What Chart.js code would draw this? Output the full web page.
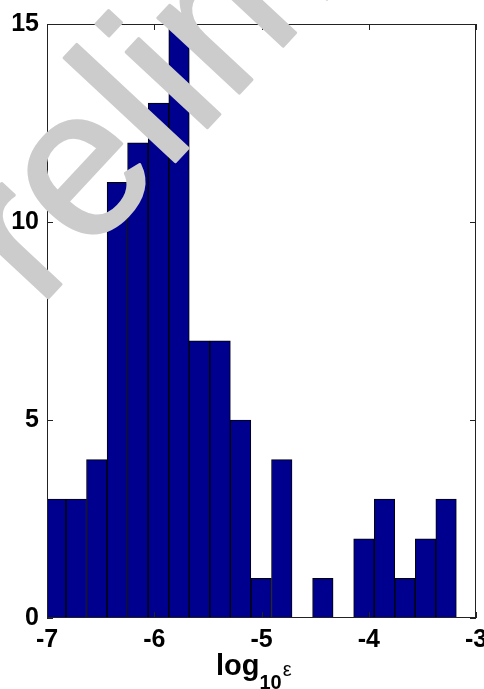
<!DOCTYPE html>
<html lang="en">
  <head>
    <meta charset="UTF-8" />
    <title>log10 eps histogram</title>
    <script src="https://cdn.jsdelivr.net/npm/chart.js"></script>
    <style>
      body {
        margin: 0;
        background: #fff;
      }
      canvas {
        display: block;
      }
    </style>
  </head>
  <body>
    <canvas id="histChart" width="484" height="689"></canvas>
    <script>
      // bin centres (log10 eps) and counts
      const binCenters = [
        -6.919, -6.727, -6.536, -6.344, -6.153, -5.961, -5.769, -5.578,
        -5.386, -5.195, -5.003, -4.811, -4.62, -4.428, -4.237, -4.045,
        -3.853, -3.662, -3.47, -3.279,
      ];
      const counts = [3, 3, 4, 11, 12, 13, 15, 7, 7, 5, 1, 4, 0, 1, 0, 2, 3, 1, 2, 3];
      const xTicks = [-7, -6, -5, -4, -3];
      const yTicks = [0, 5, 10, 15];
      const watermark = "Preliminary";

      const tickFont = { family: "'Liberation Sans', Arial, sans-serif", size: 25, weight: "bold" };

      // MATLAB style box with inward ticks on all four sides
      const boxPlugin = {
        id: "box",
        afterDatasetsDraw(chart) {
          const { ctx, chartArea: a, scales } = chart;
          ctx.save();
          ctx.strokeStyle = "#222";
          ctx.lineWidth = 1;
          ctx.strokeRect(a.left + 0.5, a.top + 0.5, a.right - a.left - 1, a.bottom - a.top - 1);
          const len = 6;
          ctx.beginPath();
          xTicks.forEach((v) => {
            const x = Math.round(scales.x.getPixelForValue(v)) + 0.5;
            ctx.moveTo(x, a.bottom);
            ctx.lineTo(x, a.bottom - len);
            ctx.moveTo(x, a.top);
            ctx.lineTo(x, a.top + len);
          });
          yTicks.forEach((v) => {
            const y = Math.round(scales.y.getPixelForValue(v)) + 0.5;
            ctx.moveTo(a.left, y);
            ctx.lineTo(a.left + len, y);
            ctx.moveTo(a.right, y);
            ctx.lineTo(a.right - len, y);
          });
          ctx.stroke();
          ctx.restore();
        },
        afterDraw(chart) {
          const { ctx } = chart;
          // x label: log_10 eps
          ctx.save();
          ctx.fillStyle = "#000";
          ctx.textBaseline = "alphabetic";
          ctx.font = "bold 29px 'Liberation Sans', Arial, sans-serif";
          let x = 216;
          const y = 675;
          ctx.fillText("log", x, y);
          x += ctx.measureText("log").width;
          ctx.font = "bold 20px 'Liberation Sans', Arial, sans-serif";
          ctx.fillText("10", x, y + 14);
          x += ctx.measureText("10").width + 1;
          ctx.font = "20px 'Liberation Sans', Arial, sans-serif";
          ctx.fillText("\u03b5", x, y + 1);
          ctx.restore();

          // grey watermark on top (stroked a bit to thicken it)
          ctx.save();
          ctx.translate(-57, 411);
          ctx.rotate((-47 * Math.PI) / 180);
          ctx.fillStyle = "#cccccc";
          ctx.strokeStyle = "#cccccc";
          ctx.lineWidth = 3;
          ctx.lineJoin = "round";
          ctx.font = "210px 'Liberation Sans', Arial, sans-serif";
          ctx.fillText(watermark, 0, 0);
          ctx.strokeText(watermark, 0, 0);
          ctx.restore();
        },
      };

      new Chart(document.getElementById("histChart"), {
        type: "bar",
        data: {
          datasets: [
            {
              data: binCenters.map((c, i) => ({ x: c, y: counts[i] })),
              backgroundColor: "rgb(0,0,143)",
              borderColor: "#000",
              borderWidth: 1,
              barPercentage: 1,
              categoryPercentage: 1,
            },
          ],
        },
        options: {
          responsive: false,
          animation: false,
          layout: { padding: { top: 24, right: 8, left: 0, bottom: 0 } },
          plugins: { legend: { display: false }, tooltip: { enabled: false } },
          scales: {
            x: {
              type: "linear",
              min: -7,
              max: -3,
              offset: false,
              grid: { display: false, drawTicks: false, tickLength: 0, offset: false },
              border: { display: false },
              ticks: { stepSize: 1, color: "#000", font: tickFont, padding: 7 },
              afterFit(scale) {
                scale.height = 71;
                // let the -3 label run off the edge like the original
                scale.paddingLeft = 0;
                scale.paddingRight = 0;
              },
            },
            y: {
              min: 0,
              max: 15,
              grid: { display: false, drawTicks: false, tickLength: 0 },
              border: { display: false },
              ticks: { stepSize: 5, color: "#000", font: tickFont, padding: 8 },
              afterFit(scale) {
                scale.width = 47;
                scale.paddingTop = 0;
                scale.paddingBottom = 0;
              },
            },
          },
        },
        plugins: [boxPlugin],
      });
    </script>
  </body>
</html>
